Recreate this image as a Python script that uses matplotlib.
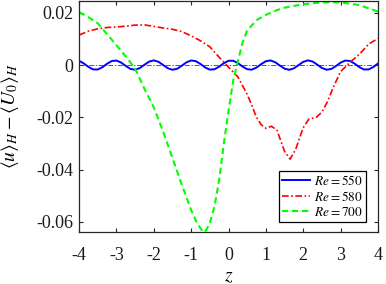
import numpy as np
import matplotlib
matplotlib.use("Agg")
import matplotlib.pyplot as plt

plt.rcParams['font.family'] = ['Liberation Serif', 'DejaVu Serif']
plt.rcParams['mathtext.fontset'] = 'stix'

# Re = 550 : small standing wave around zero (values in units of 1e-3)
z_550 = np.linspace(-4, 4, 65)
u_550 = np.array([
    1.62, 0.63, -0.71, -1.65, -1.69, -0.80, 0.53, 1.57, 1.75, 0.97,
    -0.34, -1.46, -1.78, -1.12, 0.15, 1.34, 1.80, 1.27, 0.04, -1.21,
    -1.79, -1.40, -0.23, 1.06, 1.77, 1.51, 0.42, -0.90, -1.73, -1.60,
    -0.60, 0.73, 1.66, 1.68, 0.78, -0.55, -1.58, -1.74, -0.95, 0.37,
    1.48, 1.78, 1.10, -0.18, -1.36, -1.80, -1.25, -0.01, 1.23, 1.80,
    1.38, 0.20, -1.08, -1.77, -1.49, -0.39, 0.93, 1.73, 1.59, 0.58,
    -0.75, -1.67, -1.67, -0.75, 0.57]) * 1e-3

# Re = 580
z_580 = [-4.0, -3.75, -3.5, -3.25, -3.0, -2.75, -2.5, -2.25, -2.0, -1.75,
         -1.5, -1.25, -1.0, -0.75, -0.5, -0.25, 0.0, 0.25, 0.5, 0.625,
         0.75, 0.875, 1.0, 1.15, 1.3, 1.4, 1.5, 1.65, 1.8, 1.9,
         2.0, 2.15, 2.35, 2.5, 2.65, 2.8, 3.0, 3.25, 3.5, 3.75, 4.0]
u_580 = [0.0115, 0.0130, 0.0139, 0.0144, 0.0146, 0.0149, 0.0153, 0.0154, 0.0148, 0.0142,
         0.0137, 0.0128, 0.0112, 0.0093, 0.0070, 0.0030, -0.0008, -0.0045, -0.0112, -0.0155,
         -0.0200, -0.0228, -0.0242, -0.0234, -0.0250, -0.0290, -0.0330, -0.0360, -0.0322, -0.0280,
         -0.0240, -0.0207, -0.0200, -0.0180, -0.0140, -0.0087, -0.0025, 0.0010, 0.0041, 0.0080, 0.0102]

# Re = 700
z_700 = [-4.0, -3.75, -3.5, -3.25, -3.0, -2.75, -2.5, -2.25, -2.0, -1.75,
         -1.5, -1.25, -1.0, -0.875, -0.75, -0.67, -0.6, -0.5, -0.375, -0.25,
         -0.125, 0.0, 0.125, 0.25, 0.375, 0.5, 0.75, 1.0, 1.25, 1.5,
         2.0, 2.5, 2.75, 3.0, 3.5, 4.0]
u_700 = [0.0203, 0.0183, 0.0160, 0.0118, 0.0076, 0.0033, -0.0014, -0.0091, -0.0162, -0.0255,
         -0.0356, -0.0458, -0.0555, -0.0595, -0.0625, -0.0640, -0.0632, -0.0605, -0.0540, -0.0440,
         -0.0300, -0.0176, -0.0060, 0.0015, 0.0085, 0.0132, 0.0172, 0.0192, 0.0208, 0.0220,
         0.0233, 0.0240, 0.0241, 0.0240, 0.0230, 0.0205]

labels = [r'$Re = 550$', r'$Re = 580$', r'$Re = 700$']
xticks = [-4, -3, -2, -1, 0, 1, 2, 3, 4]
yticks = [-0.06, -0.04, -0.02, 0, 0.02]
ytick_labels = ['-0.06', '-0.04', '-0.02', '0', '0.02']

fig = plt.figure(figsize=(3.86, 2.84), dpi=100)
ax = fig.add_axes([0.205, 0.183, 0.774, 0.815])

ax.axhline(0, color='0.25', lw=0.6, linestyle=(0, (6, 2, 1.5, 2)))
ax.plot(z_550, u_550, color='b', lw=1.4, label=labels[0])
ax.plot(z_580, u_580, color='r', lw=1.2, linestyle=(0, (4, 1.5, 1, 1.5)), label=labels[1])
ax.plot(z_700, u_700, color=(0, 1, 0), lw=1.5, linestyle=(0, (3, 1.8)), label=labels[2])

ax.set_xlim(-4, 4)
ax.set_ylim(-0.0639, 0.0247)
ax.set_xticks(xticks)
ax.set_xticklabels([str(t) for t in xticks])
ax.set_yticks(yticks)
ax.set_yticklabels(ytick_labels)
ax.tick_params(direction='in', length=3, width=0.8, top=True, right=True,
               labelsize=13, colors='0.15', labelcolor='0.1')
ax.tick_params(axis='x', pad=11)
ax.tick_params(axis='y', pad=4)
for s in ax.spines.values():
    s.set_color('0.15')
    s.set_linewidth(0.9)

ax.set_xlabel(r'$z$', fontsize=14, labelpad=3)
ax.set_ylabel(r'$\langle u\rangle_H - \langle U_0\rangle_H$', fontsize=14, labelpad=11)

leg = ax.legend(loc='lower right', bbox_to_anchor=(0.96, 0.043), borderaxespad=0,
                fontsize=9.5, handlelength=2.1, handletextpad=0.3, labelspacing=0.15,
                fancybox=False, framealpha=1, edgecolor='k', borderpad=0.25)
leg.get_frame().set_linewidth(0.9)

fig.savefig('out.png', dpi=100)
